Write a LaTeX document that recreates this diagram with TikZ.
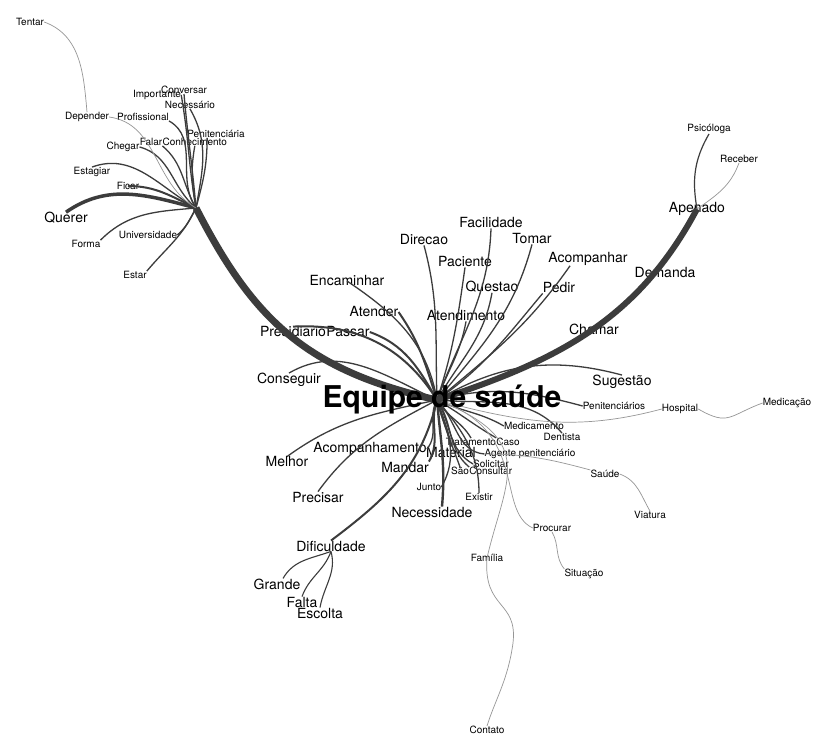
\documentclass[tikz,border=0pt]{standalone}
\usepackage{fontspec}
\setmainfont{TeX Gyre Heros}
\usetikzlibrary{positioning}
\definecolor{linkgray}{RGB}{60,60,60}
\definecolor{faintgray}{RGB}{150,150,150}

\begin{document}
\begin{tikzpicture}[
    x=1pt, y=1pt,
    bigword/.style={inner sep=0pt, font=\fontsize{14}{14}\selectfont},
    smallword/.style={inner sep=0pt, font=\fontsize{10}{10}\selectfont},
    hubword/.style={inner sep=0pt, font=\fontsize{30}{30}\selectfont\bfseries},
    link/.style={draw=linkgray, line width=1.3pt},
    heavylink/.style={draw=linkgray, line width=2.4pt},
    faintlink/.style={draw=faintgray, line width=0.7pt},
    trunk/.style={draw=linkgray, line width=7pt}
]
\fill[white] (0,0) rectangle (840,740);
\useasboundingbox (0,0) rectangle (840,740);

% --- Hub points ---
\coordinate (root) at (437,340);
\coordinate (lroot) at (196,532);

% --- Left cluster ---
\node[smallword] (tentar) at (30,718) {Tentar};
\node[smallword] (importante) at (157,645) {Importante};
\node[smallword] (conversar) at (184,650) {Conversar};
\node[smallword] (necessario) at (190,635) {Necessário};
\node[smallword] (depender) at (87,623) {Depender};
\node[smallword] (profissional) at (143,623) {Profissional};
\node[smallword] (penitenciaria) at (216,606) {Penitenciária};
\node[smallword] (falar) at (151,598) {Falar};
\node[smallword, base right=0pt of falar] (conhecimento) {Conhecimento};
\node[smallword] (chegar) at (123,593) {Chegar};
\node[smallword] (estagiar) at (92,568) {Estagiar};
\node[smallword] (ficar) at (128,554) {Ficar};
\node[bigword] (querer) at (66,522) {Querer};
\node[smallword] (forma) at (86,496) {Forma};
\node[smallword] (universidade) at (148,505) {Universidade};
\node[smallword] (estar) at (135,465) {Estar};

% --- Upper branches of the hub ---
\node[bigword] (facilidade) at (491,517) {Facilidade};
\node[bigword] (direcao) at (424,500) {Direcao};
\node[bigword] (tomar) at (532,501) {Tomar};
\node[bigword] (paciente) at (465,478) {Paciente};
\node[bigword] (acompanhar) at (588,481) {Acompanhar};
\node[bigword] (questao) at (492,453) {Questao};
\node[bigword] (pedir) at (559,452) {Pedir};
\node[bigword] (atendimento) at (466,424) {Atendimento};
\node[bigword] (chamar) at (594,411) {Chamar};
\node[bigword] (demanda) at (665,467) {Demanda};
\node[bigword] (apenado) at (697,531) {Apenado};
\node[smallword] (psicologa) at (709,611) {Psicóloga};
\node[smallword] (receber) at (739,581) {Receber};
\node[bigword] (encaminhar) at (347,459) {Encaminhar};
\node[bigword] (atender) at (374,428) {Atender};
\node[bigword] (presidiario) at (293,408) {Presidiario};
\node[bigword, base right=0pt of presidiario] (passar) {Passar};
\node[bigword] (conseguir) at (289,360) {Conseguir};
\node[bigword] (sugestao) at (622,358) {Sugestão};
\node[smallword] (penitenciarios) at (614,334) {Penitenciários};
\node[smallword] (hospital) at (680,331) {Hospital};
\node[smallword] (medicacao) at (787,337) {Medicação};

% --- Lower branches of the hub ---
\node[smallword] (medicamento) at (534,314) {Medicamento};
\node[smallword] (dentista) at (562,303) {Dentista};
\node[smallword] (tratamento) at (471,298) {Tratamento};
\node[smallword, base right=0pt of tratamento] (caso) {Caso};
\node[bigword] (material) at (451,288) {Material};
\node[smallword] (agente) at (530,286) {Agente penitenciário};
\node[smallword] (solicitar) at (491,276) {Solicitar};
\node[smallword] (sao) at (460,269) {São};
\node[smallword, base right=0pt of sao] (consultar) {Consultar};
\node[smallword] (junto) at (429,253) {Junto};
\node[smallword] (existir) at (479,243) {Existir};
\node[bigword] (necessidade) at (432,228) {Necessidade};
\node[bigword] (mandar) at (405,273) {Mandar};
\node[bigword] (acompanhamento) at (370,291) {Acompanhamento};
\node[bigword] (melhor) at (287,278) {Melhor};
\node[bigword] (precisar) at (318,243) {Precisar};
\node[bigword] (dificuldade) at (331,194) {Dificuldade};
\node[bigword] (grande) at (277,156) {Grande};
\node[bigword] (falta) at (302,138) {Falta};
\node[bigword] (escolta) at (320,127) {Escolta};
\node[smallword] (saude) at (605,266) {Saúde};
\node[smallword] (viatura) at (650,225) {Viatura};
\node[smallword] (procurar) at (552,212) {Procurar};
\node[smallword] (situacao) at (584,166) {Situação};
\node[smallword] (familia) at (487,182) {Família};
\node[smallword] (contato) at (487,10) {Contato};

% --- Edges: left hub -> its words ---
\foreach \leaf/\o/\i in {profissional.south east/125/-30, importante.east/100/-80,
    conversar.south/95/-85, necessario.south/80/-60, falar.south east/120/-40,
    conhecimento.south/100/-100, chegar.east/140/-15, estagiar.north/150/20,
    forma.north east/185/45, universidade.east/-120/40, estar.north east/-115/50}{
  \draw[link] (lroot) to[out=\o, in=\i] (\leaf);
}
\draw[link] (lroot) to[out=75, in=-90] ([xshift=20pt]penitenciaria.south west);
\draw[link, line width=2pt] (lroot) to[out=155, in=0] (ficar.center);
\draw[link, line width=3.5pt] (lroot) to[out=165, in=35] (querer.north);
\draw[faintlink] (tentar.east) to[out=-20, in=95] (depender.north);
\draw[faintlink] (depender.east) to[out=-8, in=150] (lroot);

% --- Edges: main hub -> its words ---
\foreach \leaf/\o/\i in {encaminhar.center/100/-34, direcao.south/92/-75,
    facilidade.south/70/-92, paciente.south/72/-98, questao.south/60/-100,
    tomar.south/50/-105, atendimento.south/70/-100, pedir.south west/35/-130,
    conseguir.north/155/30, sugestao.north/30/165, penitenciarios.west/15/165,
    medicamento.west/-25/150, dentista.north/-5/130, caso.north west/-30/150,
    tratamento.north/-60/120, agente.west/-45/175, solicitar.west/-60/150,
    sao.north/-75/110, consultar.north west/-55/140, existir.north/-50/90,
    junto.east/-70/60, acompanhamento.east/-120/50, melhor.north/192/36,
    precisar.north/208/54}{
  \draw[link] (root) to[out=\o, in=\i] (\leaf);
}
\draw[link] (root) to[out=40, in=-125] ([xshift=-18pt]acompanhar.south);
% heavier links
\foreach \leaf/\o/\i in {atender.east/108/-55, passar.east/120/-20,
    presidiario.north/122/3, material.north/-75/100, mandar.north east/-110/60,
    dificuldade.north/257/37}{
  \draw[heavylink, line width=2pt] (root) to[out=\o, in=\i] (\leaf);
}
\draw[heavylink] (root) to[out=-85, in=85] ([xshift=10pt]necessidade.north);

% --- Second level ---
\draw[link, line width=1.1pt] (dificuldade.south) to[out=-160, in=60] ([xshift=6pt]grande.north);
\draw[link, line width=1.1pt] (dificuldade.south) to[out=-110, in=70] (falta.north);
\draw[link, line width=1.1pt] (dificuldade.south) to[out=-75, in=80] (escolta.north);
\draw[link, line width=1.2pt] (apenado.center) to[out=100, in=-120] (psicologa.south);
\draw[faintlink] (apenado.center) to[out=35, in=-110] (receber.south);
\draw[faintlink] (root) to[out=-15, in=195] (hospital.west);
\draw[faintlink] (hospital.east) to[out=-30, in=200, looseness=1.4] (medicacao.west);
\draw[faintlink] (agente.west) to[out=0, in=165] (saude.north west);
\draw[faintlink] (saude.east) to[out=-20, in=120] (viatura.north);
\draw[faintlink] (root) .. controls (530,310) and (495,230) .. (procurar.west);
\draw[faintlink] (procurar.south) to[out=-60, in=130] (situacao.north west);
\draw[faintlink] (root) .. controls (540,300) and (505,260) .. (familia.center);
\draw[faintlink] (familia.center) .. controls (483,130) and (518,140) .. (513,97)
    .. controls (508,60) and (495,40) .. (contato.north);

% --- Trunks ---
\draw[trunk] (root) .. controls (305,370) and (253,421) .. (lroot);
\draw[trunk, line width=6pt] (root) to[out=18, in=-118] (apenado.center);

% --- Hub label on top ---
\node[hubword] (eq) at (442,341) {Equipe de saúde};

\end{tikzpicture}
\end{document}
